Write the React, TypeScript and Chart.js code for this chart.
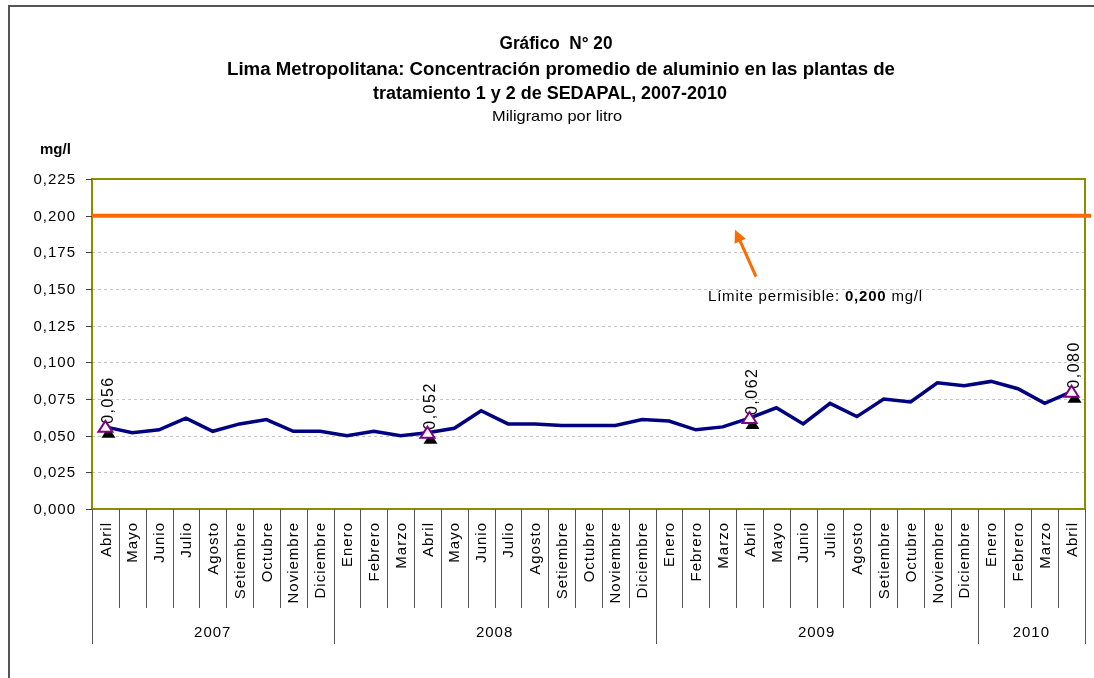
import React, { useEffect, useRef } from "react";
import { Chart, registerables } from "chart.js";

Chart.register(...registerables);

const MONTHS = [
  "Abril", "Mayo", "Junio", "Julio", "Agosto", "Setiembre", "Octubre", "Noviembre", "Diciembre",
  "Enero", "Febrero", "Marzo", "Abril", "Mayo", "Junio", "Julio", "Agosto", "Setiembre", "Octubre", "Noviembre", "Diciembre",
  "Enero", "Febrero", "Marzo", "Abril", "Mayo", "Junio", "Julio", "Agosto", "Setiembre", "Octubre", "Noviembre", "Diciembre",
  "Enero", "Febrero", "Marzo", "Abril",
];
const YEARS = ["2007", "2008", "2009", "2010"];
const YEAR_SPANS = [9, 12, 12, 4];
const VALUES = [
  0.056, 0.052, 0.054, 0.062, 0.053, 0.058, 0.061, 0.053, 0.053,
  0.050, 0.053, 0.050, 0.052, 0.055, 0.067, 0.058, 0.058, 0.057, 0.057, 0.057, 0.061,
  0.060, 0.054, 0.056, 0.062, 0.069, 0.058, 0.072, 0.063, 0.075, 0.073, 0.086, 0.084,
  0.087, 0.082, 0.072, 0.080,
];
const LABELED = [0, 12, 24, 36];
const LIMIT = 0.2;
const Y_TICKS = [0, 0.025, 0.05, 0.075, 0.1, 0.125, 0.15, 0.175, 0.2, 0.225];
const TITLE_1 = "Gráfico  N° 20";
const TITLE_2 = "Lima Metropolitana: Concentración promedio de aluminio en las plantas de";
const TITLE_3 = "tratamiento 1 y 2 de SEDAPAL, 2007-2010";
const SUBTITLE = "Miligramo por litro";
const Y_UNIT = "mg/l";
const LIMIT_TEXT_A = "Límite permisible: ";
const LIMIT_TEXT_B = "0,200";
const LIMIT_TEXT_C = " mg/l";

const FONT = '"Liberation Sans", Arial, sans-serif';

function fmt(v: number) {
  return v.toFixed(3).replace(".", ",");
}

function fitText(ctx: CanvasRenderingContext2D, text: string, cx: number, cy: number, font: string, targetW: number) {
  ctx.save();
  ctx.font = font;
  const w = ctx.measureText(text).width;
  ctx.translate(cx, cy);
  ctx.scale(targetW / w, 1);
  ctx.textAlign = "center";
  ctx.textBaseline = "middle";
  ctx.fillText(text, 0, 0);
  ctx.restore();
}

const overlay = {
  id: "overlay",
  beforeDatasetsDraw(chart: any) {
    const ctx: CanvasRenderingContext2D = chart.ctx;
    const { left, right } = chart.chartArea;
    const y = chart.scales.y;
    ctx.save();
    ctx.strokeStyle = "#c4c4c4";
    ctx.lineWidth = 1;
    ctx.setLineDash([3, 3]);
    Y_TICKS.forEach((t) => {
      if (t === 0 || t === 0.225 || t === LIMIT) return;
      const py = Math.round(y.getPixelForValue(t)) + 0.5;
      ctx.beginPath();
      ctx.moveTo(left, py);
      ctx.lineTo(right, py);
      ctx.stroke();
    });
    ctx.setLineDash([]);
    ctx.restore();
  },
  afterDatasetsDraw(chart: any) {
    const ctx: CanvasRenderingContext2D = chart.ctx;
    const { left, right, top, bottom } = chart.chartArea;
    const xs = chart.scales.x;
    const ys = chart.scales.y;
    ctx.save();

    // plot border
    ctx.strokeStyle = "#8c8c00";
    ctx.lineWidth = 2;
    ctx.strokeRect(left, top, right - left, bottom - top);

    // y ticks + labels
    ctx.strokeStyle = "#444";
    ctx.lineWidth = 1;
    ctx.fillStyle = "#000";
    ctx.font = `15px ${FONT}`;
    (ctx as any).letterSpacing = "1px";
    ctx.textAlign = "right";
    ctx.textBaseline = "middle";
    Y_TICKS.forEach((t) => {
      const py = Math.round(ys.getPixelForValue(t)) + 0.5;
      ctx.beginPath();
      ctx.moveTo(left - 6, py);
      ctx.lineTo(left, py);
      ctx.stroke();
      ctx.fillText(fmt(t), left - 16, py);
    });
    (ctx as any).letterSpacing = "0px";

    // limit line
    const ly = ys.getPixelForValue(LIMIT);
    ctx.strokeStyle = "#ff6a00";
    ctx.lineWidth = 4;
    ctx.beginPath();
    ctx.moveTo(left, ly);
    ctx.lineTo(right + 6, ly);
    ctx.stroke();

    // arrow
    const tipX = 735, tipY = ly + 14;
    const tailX = 756, tailY = ly + 61;
    const ang = Math.atan2(tipY - tailY, tipX - tailX);
    ctx.lineWidth = 3;
    ctx.beginPath();
    ctx.moveTo(tailX, tailY);
    ctx.lineTo(tipX - Math.cos(ang) * 8, tipY - Math.sin(ang) * 8);
    ctx.stroke();
    ctx.fillStyle = "#ff6a00";
    ctx.beginPath();
    ctx.moveTo(tipX, tipY);
    ctx.lineTo(tipX - Math.cos(ang - 0.45) * 14, tipY - Math.sin(ang - 0.45) * 14);
    ctx.lineTo(tipX - Math.cos(ang + 0.45) * 14, tipY - Math.sin(ang + 0.45) * 14);
    ctx.closePath();
    ctx.fill();

    // limit text
    ctx.fillStyle = "#000";
    ctx.textAlign = "left";
    ctx.textBaseline = "middle";
    (ctx as any).letterSpacing = "0.8px";
    let tx = 708;
    const tyy = ly + 81;
    ctx.font = `15px ${FONT}`;
    ctx.fillText(LIMIT_TEXT_A, tx, tyy);
    tx += ctx.measureText(LIMIT_TEXT_A).width;
    ctx.font = `bold 15px ${FONT}`;
    ctx.fillText(LIMIT_TEXT_B, tx, tyy);
    tx += ctx.measureText(LIMIT_TEXT_B).width;
    ctx.font = `15px ${FONT}`;
    ctx.fillText(LIMIT_TEXT_C, tx, tyy);
    (ctx as any).letterSpacing = "0px";

    // value labels then markers
    const meta = chart.getDatasetMeta(0);
    LABELED.forEach((i) => {
      const p = meta.data[i];
      ctx.save();
      ctx.translate(p.x + 3, p.y - 3);
      ctx.rotate(-Math.PI / 2);
      ctx.fillStyle = "#000";
      ctx.font = `16px ${FONT}`;
      (ctx as any).letterSpacing = "1.5px";
      ctx.textAlign = "left";
      ctx.textBaseline = "middle";
      ctx.fillText(fmt(VALUES[i]), 0, 0);
      ctx.restore();
    });
    const tri = (cx: number, cy: number) => {
      ctx.beginPath();
      ctx.moveTo(cx, cy - 6);
      ctx.lineTo(cx + 7, cy + 5);
      ctx.lineTo(cx - 7, cy + 5);
      ctx.closePath();
    };
    LABELED.forEach((i) => {
      const p = meta.data[i];
      ctx.fillStyle = "#000";
      tri(p.x + 3, p.y + 6);
      ctx.fill();
      ctx.fillStyle = "#fff";
      ctx.strokeStyle = "#800080";
      ctx.lineWidth = 2;
      tri(p.x, p.y);
      ctx.fill();
      ctx.stroke();
    });

    // x axis: month labels + separators
    const n = MONTHS.length;
    const cw = (right - left) / n;
    ctx.strokeStyle = "#555";
    ctx.lineWidth = 1;
    const yearBounds = new Set<number>();
    let acc = 0;
    yearBounds.add(0);
    YEAR_SPANS.forEach((s) => { acc += s; yearBounds.add(acc); });
    for (let i = 0; i <= n; i++) {
      const bx = Math.round(left + i * cw) + 0.5;
      ctx.beginPath();
      ctx.moveTo(bx, bottom);
      ctx.lineTo(bx, yearBounds.has(i) ? 644 : 608);
      ctx.stroke();
    }
    ctx.fillStyle = "#000";
    ctx.font = `15px ${FONT}`;
    (ctx as any).letterSpacing = "1px";
    MONTHS.forEach((m, i) => {
      const cx = xs.getPixelForValue(i);
      ctx.save();
      ctx.translate(cx + 1, bottom + 13);
      ctx.rotate(-Math.PI / 2);
      ctx.textAlign = "right";
      ctx.textBaseline = "middle";
      ctx.fillText(m, 0, 0);
      ctx.restore();
    });
    // years
    ctx.textAlign = "center";
    ctx.textBaseline = "middle";
    acc = 0;
    YEARS.forEach((yr, k) => {
      const x0 = left + acc * cw;
      acc += YEAR_SPANS[k];
      const x1 = left + acc * cw;
      ctx.fillText(yr, (x0 + x1) / 2, 633);
    });
    (ctx as any).letterSpacing = "0px";

    // titles
    ctx.fillStyle = "#000";
    fitText(ctx, TITLE_1, 556, 44, `bold 18px ${FONT}`, 113);
    fitText(ctx, TITLE_2, 561, 70, `bold 18px ${FONT}`, 668);
    fitText(ctx, TITLE_3, 550, 94, `bold 18px ${FONT}`, 354);
    fitText(ctx, SUBTITLE, 557, 117, `15px ${FONT}`, 130);

    ctx.font = `bold 15px ${FONT}`;
    ctx.textAlign = "left";
    ctx.textBaseline = "middle";
    ctx.fillText(Y_UNIT, 40, 150);

    // outer frame
    ctx.strokeStyle = "#555";
    ctx.lineWidth = 2;
    ctx.beginPath();
    ctx.moveTo(9, 678);
    ctx.lineTo(9, 6);
    ctx.lineTo(1094, 6);
    ctx.stroke();

    ctx.restore();
  },
};

export default function App() {
  const ref = useRef<HTMLCanvasElement>(null);
  useEffect(() => {
    document.body.style.margin = "0";
    const canvas = ref.current!;
    const chart = new Chart(canvas, {
      type: "line",
      data: {
        labels: MONTHS.map((m, i) => `${m}-${i}`),
        datasets: [
          {
            data: VALUES,
            borderColor: "#000080",
            borderWidth: 3.5,
            pointRadius: 0,
            tension: 0,
            fill: false,
          },
        ],
      },
      options: {
        animation: false,
        responsive: false,
        maintainAspectRatio: false,
        layout: { padding: { left: 92, top: 179, right: 9, bottom: 169 } },
        plugins: { legend: { display: false }, tooltip: { enabled: false }, title: { display: false } },
        scales: {
          x: { type: "category", offset: true, display: false },
          y: { min: 0, max: 0.225, display: false },
        },
      },
      plugins: [overlay],
    });
    return () => chart.destroy();
  }, []);
  return (
    <div style={{ width: 1094, height: 678, background: "#fff" }}>
      <canvas ref={ref} width={1094} height={678} style={{ display: "block", width: 1094, height: 678 }} />
    </div>
  );
}
